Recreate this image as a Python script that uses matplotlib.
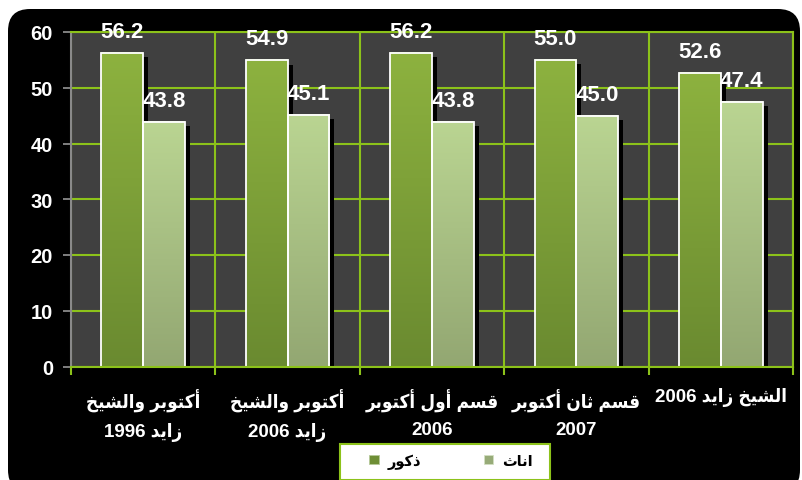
import numpy as np
import matplotlib
matplotlib.use('Agg')
import matplotlib.pyplot as plt
from matplotlib.patches import FancyBboxPatch, Rectangle, Patch
from matplotlib.transforms import IdentityTransform
import matplotlib.patheffects as pe
from matplotlib.colors import LinearSegmentedColormap
from matplotlib import font_manager as fm
from matplotlib.ft2font import FT2Font

# ---------------- data ----------------
categories = [
    "أكتوبر والشيخ\nزايد 1996",
    "أكتوبر والشيخ\nزايد 2006",
    "قسم أول أكتوبر\n2006",
    "قسم ثان أكتوبر\n2007",
    "الشيخ زايد 2006",
]
series_names = ["ذكور", "اناث"]
males = [56.2, 54.9, 56.2, 55.0, 52.6]
females = [43.8, 45.1, 43.8, 45.0, 47.4]
yticks = [0, 10, 20, 30, 40, 50, 60]

# ---------------- minimal Arabic shaping + RTL ordering ----------------
FORMS = {
    '\u0627': (0xFE8D, 0xFE8E, None, None),
    '\u0623': (0xFE83, 0xFE84, None, None),
    '\u0628': (0xFE8F, 0xFE90, 0xFE91, 0xFE92),
    '\u062A': (0xFE95, 0xFE96, 0xFE97, 0xFE98),
    '\u062B': (0xFE99, 0xFE9A, 0xFE9B, 0xFE9C),
    '\u062E': (0xFEA5, 0xFEA6, 0xFEA7, 0xFEA8),
    '\u062F': (0xFEA9, 0xFEAA, None, None),
    '\u0630': (0xFEAB, 0xFEAC, None, None),
    '\u0631': (0xFEAD, 0xFEAE, None, None),
    '\u0632': (0xFEAF, 0xFEB0, None, None),
    '\u0633': (0xFEB1, 0xFEB2, 0xFEB3, 0xFEB4),
    '\u0634': (0xFEB5, 0xFEB6, 0xFEB7, 0xFEB8),
    '\u0642': (0xFED5, 0xFED6, 0xFED7, 0xFED8),
    '\u0643': (0xFED9, 0xFEDA, 0xFEDB, 0xFEDC),
    '\u0644': (0xFEDD, 0xFEDE, 0xFEDF, 0xFEE0),
    '\u0645': (0xFEE1, 0xFEE2, 0xFEE3, 0xFEE4),
    '\u0646': (0xFEE5, 0xFEE6, 0xFEE7, 0xFEE8),
    '\u0648': (0xFEED, 0xFEEE, None, None),
    '\u064A': (0xFEF1, 0xFEF2, 0xFEF3, 0xFEF4),
}


def shape_word(w):
    out = []
    for i, c in enumerate(w):
        if c not in FORMS:
            out.append(c)
            continue
        prev = w[i - 1] if i > 0 else None
        nxt = w[i + 1] if i + 1 < len(w) else None
        f = FORMS[c]
        jp = prev in FORMS and FORMS[prev][2] is not None
        jn = f[2] is not None and nxt in FORMS
        if jp and jn:
            cp = f[3]
        elif jp:
            cp = f[1]
        elif jn:
            cp = f[2]
        else:
            cp = f[0]
        out.append(chr(cp))
    return ''.join(out)


def rtl(text):
    lines = []
    for line in text.split('\n'):
        vis = []
        for w in reversed(line.split(' ')):
            if any(c in FORMS for c in w):
                vis.append(shape_word(w)[::-1])
            else:
                vis.append(w)
        lines.append(' '.join(vis))
    return '\n'.join(lines)


FAM = ['Liberation Sans', 'DejaVu Sans']


def condensed_arabic_ok():
    try:
        p = fm.findfont(fm.FontProperties(family='DejaVu Sans', weight='bold',
                                          stretch='condensed'),
                        fallback_to_default=False)
        return ('ondensed' in p) and (0xFEB7 in FT2Font(p).get_charmap())
    except Exception:
        return False


COND = condensed_arabic_ok()
CAT_STRETCH = 'condensed' if COND else 'normal'
CAT_SIZE = 13.5 if COND else 12.2

# ---------------- colours ----------------
GRID = '#8CC21A'
BG = '#404040'
male_cmap = LinearSegmentedColormap.from_list('m', ['#6A8A30', '#8DB23F'])
female_cmap = LinearSegmentedColormap.from_list('f', ['#93A772', '#BAD592'])
MALE_SOLID = '#6E8E35'
FEMALE_SOLID = '#97AB78'

# ---------------- figure ----------------
W, H = 802, 481
fig = plt.figure(figsize=(W / 100, H / 100), dpi=100)
fig.patch.set_facecolor('white')

bgbox = FancyBboxPatch((8, -12), 792, H - 10 + 12,
                       boxstyle='round,pad=0,rounding_size=22',
                       transform=IdentityTransform(), facecolor='black',
                       edgecolor='none', zorder=-10)
fig.add_artist(bgbox)

ax = fig.add_axes([71 / W, 1 - 367.5 / H, (793 - 71) / W, (367.5 - 33) / H])
ax.set_facecolor(BG)
ax.patch.set_zorder(-5)

x = np.arange(len(categories))
bw = 0.29
shadow = [pe.SimplePatchShadow(offset=(3.6, -3.0), shadow_rgbFace='black', alpha=1.0), pe.Normal()]

grad = np.linspace(0, 1, 256).reshape(-1, 1)
for i in range(len(categories)):
    for val, off, cmap, solid in ((males[i], -bw / 2, male_cmap, MALE_SOLID),
                                  (females[i], bw / 2, female_cmap, FEMALE_SOLID)):
        bars = ax.bar(x[i] + off, val, width=bw, color=solid, edgecolor='none',
                      zorder=2, path_effects=shadow)
        b = bars[0]
        x0, w, h = b.get_x(), b.get_width(), b.get_height()
        ax.imshow(grad, extent=(x0, x0 + w, 0, h), origin='lower', cmap=cmap,
                  aspect='auto', zorder=2.1, interpolation='bilinear')
        ax.bar(x[i] + off, val, width=bw, fill=False, edgecolor='white',
               linewidth=1.3, zorder=2.2)
        ax.annotate(f"{val:.1f}", xy=(x[i] + off, val), xytext=(0, 11.5),
                    textcoords='offset points', ha='center', va='baseline',
                    color='white', fontsize=16, fontweight='bold',
                    family=FAM, zorder=6, annotation_clip=False)

ax.set_xlim(-0.5, len(categories) - 0.5)
ax.set_ylim(0, 60)

# y axis
ax.set_yticks(yticks)
ax.set_yticklabels([str(t) for t in yticks])
ax.tick_params(axis='y', which='major', direction='out', length=6, width=1.3,
               color='#8A8A8A', pad=7, labelcolor='white', labelsize=14.5)
for lab in ax.get_yticklabels():
    lab.set_fontweight('bold')
    lab.set_family(FAM)

# x axis: labels at centres, ticks at boundaries
ax.set_xticks(x)
ax.set_xticklabels([rtl(c) for c in categories])
ax.set_xticks(np.arange(-0.5, len(categories), 1.0), minor=True)
ax.tick_params(axis='x', which='major', length=0, pad=15, labelcolor='white',
               labelsize=CAT_SIZE)
ax.tick_params(axis='x', which='minor', direction='out', length=6, width=1.5,
               color=GRID)
for lab in ax.get_xticklabels():
    lab.set_fontweight('bold')
    lab.set_family(FAM)
    lab.set_fontstretch(CAT_STRETCH)
    lab.set_linespacing(1.8)
    lab.set_multialignment('center')

ax.set_axisbelow(True)
ax.grid(axis='y', which='major', color=GRID, linewidth=1.5)
ax.grid(axis='x', which='minor', color=GRID, linewidth=1.5)
ax.grid(axis='x', which='major', visible=False)

for s in ('top', 'right', 'bottom'):
    ax.spines[s].set_color(GRID)
    ax.spines[s].set_linewidth(1.5)
ax.spines['left'].set_color('#8A8A8A')
ax.spines['left'].set_linewidth(1.5)

# legend
legbox = Rectangle((340, 0), 210, H - 445, transform=IdentityTransform(),
                   facecolor='white', edgecolor=GRID, linewidth=1.5, zorder=4)
fig.add_artist(legbox)
handles = [Patch(facecolor=MALE_SOLID, edgecolor='#B5C99A', linewidth=0.6),
           Patch(facecolor=FEMALE_SOLID, edgecolor='#D3DFC3', linewidth=0.6)]
leg = fig.legend(handles, [rtl(n) for n in series_names], ncol=2, loc='center',
                 bbox_to_anchor=(451 / W, 1 - 462 / H), frameon=False,
                 handlelength=0.65, handleheight=0.65, handletextpad=0.6,
                 columnspacing=4.3,
                 prop={'family': FAM, 'weight': 'bold', 'size': 10.5})
leg.set_zorder(5)

fig.savefig('out.png', dpi=100)
